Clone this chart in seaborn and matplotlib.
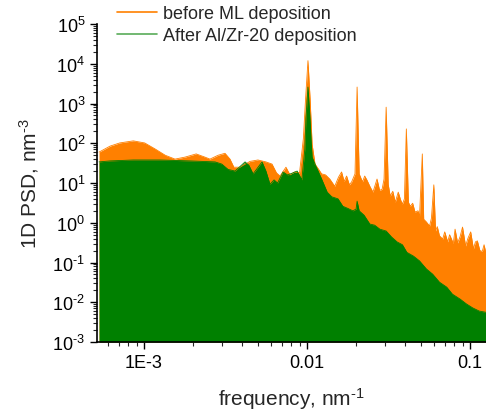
import numpy as np
import pandas as pd
import matplotlib
matplotlib.use("Agg")
import matplotlib.pyplot as plt
import matplotlib.ticker as mticker
from matplotlib.lines import Line2D
import seaborn as sns

# PSD before multilayer deposition (frequency in nm^-1, PSD in nm^-3)
freq_before = [5.3e-4, 6.2e-4, 7.1e-4, 8.6e-4, 1.01e-3, 1.17e-3, 1.35e-3, 1.55e-3,
               1.79e-3, 2.09e-3, 2.36e-3, 2.54e-3, 2.85e-3, 3.14e-3, 3.37e-3, 3.56e-3,
               3.88e-3, 4.47e-3, 5.0e-3, 5.6e-3, 6.1e-3, 6.5e-3, 6.83e-3, 7.43e-3,
               7.87e-3, 8.4e-3, 9.0e-3, 9.5e-3, 9.8e-3, 1.014e-2, 1.045e-2, 1.075e-2,
               1.12e-2, 1.18e-2, 1.23e-2, 1.30e-2, 1.38e-2, 1.48e-2, 1.56e-2, 1.63e-2,
               1.69e-2, 1.75e-2, 1.82e-2, 1.88e-2, 1.97e-2, 2.03e-2, 2.09e-2, 2.19e-2,
               2.26e-2, 2.33e-2, 2.44e-2, 2.54e-2, 2.69e-2, 2.79e-2, 2.89e-2, 2.97e-2,
               3.06e-2, 3.15e-2, 3.24e-2, 3.36e-2, 3.48e-2, 3.63e-2, 3.75e-2, 3.85e-2,
               3.96e-2, 4.07e-2, 4.19e-2, 4.3e-2, 4.45e-2, 4.6e-2, 4.8e-2, 4.9e-2,
               5.1e-2, 5.2e-2, 5.4e-2, 5.65e-2, 5.8e-2, 6.0e-2, 6.15e-2, 6.3e-2,
               6.5e-2, 6.8e-2, 7.0e-2, 7.3e-2, 7.5e-2, 7.7e-2, 7.9e-2, 8.1e-2,
               8.4e-2, 8.7e-2, 9.0e-2, 9.4e-2, 9.7e-2, 1.01e-1, 1.05e-1, 1.08e-1,
               1.11e-1, 1.15e-1, 1.19e-1, 1.22e-1, 1.25e-1]
psd_before = [60, 85, 102, 115, 102, 72, 50, 40,
              45, 54, 45, 40, 50, 56, 40, 25,
              25, 35, 38, 34, 30, 18, 15, 25,
              16, 19, 18, 130, 1300, 12000, 1300, 95,
              30, 22, 17, 16, 12.6, 8.3, 14, 19,
              11, 15, 9, 10.7, 17, 2600, 17, 10.7,
              15, 12, 8, 5.9, 12.6, 6.5, 7, 12.6,
              810, 9.3, 4.7, 6.2, 3.3, 5.9, 3.8, 2.95,
              4.0, 230, 3.3, 2.6, 3.1, 1.86, 2.0, 1.4,
              54, 1.23, 1.05, 0.83, 1.3, 9, 0.62, 0.8,
              0.47, 0.39, 0.59, 0.33, 0.5, 0.39, 0.3, 0.69,
              0.31, 0.45, 0.78, 0.26, 0.4, 0.59, 0.22, 0.33,
              0.35, 0.2, 0.19, 0.28, 0.18]

# PSD after Al/Zr-20 deposition
freq_after = [5.3e-4, 6.2e-4, 8.6e-4, 1.25e-3, 1.91e-3, 2.73e-3, 3.0e-3, 3.28e-3,
              3.62e-3, 4.17e-3, 4.4e-3, 4.67e-3, 5.3e-3, 5.6e-3, 5.93e-3, 6.28e-3,
              6.6e-3, 7.13e-3, 7.6e-3, 8.2e-3, 8.7e-3, 9.3e-3, 9.7e-3, 9.85e-3,
              1.014e-2, 1.045e-2, 1.075e-2, 1.12e-2, 1.17e-2, 1.23e-2, 1.33e-2, 1.42e-2,
              1.55e-2, 1.66e-2, 1.78e-2, 1.91e-2, 2.0e-2, 2.03e-2, 2.09e-2, 2.24e-2,
              2.43e-2, 2.6e-2, 2.8e-2, 3.06e-2, 3.3e-2, 3.57e-2, 3.85e-2, 4.1e-2,
              4.5e-2, 4.9e-2, 5.4e-2, 5.9e-2, 6.5e-2, 7.2e-2, 7.8e-2, 8.7e-2,
              9.5e-2, 1.04e-1, 1.14e-1, 1.25e-1]
psd_after = [34, 36, 38, 38, 36, 34, 30, 22,
             20, 34, 28, 17, 34, 20, 9.3, 12,
             10, 19, 16, 18, 20, 12, 72, 410,
             2600, 410, 45, 30, 20, 12.6, 5.9, 4.5,
             4.0, 2.6, 2.3, 2.0, 2.2, 3.5, 2.0, 1.55,
             0.93, 0.87, 0.69, 0.62, 0.44, 0.33, 0.28, 0.18,
             0.145, 0.11, 0.069, 0.051, 0.032, 0.024, 0.016, 0.012,
             0.0091, 0.0072, 0.006, 0.0056]

labels = ["before ML deposition", "After Al/Zr-20 deposition"]
colors = ["#ff8000", "#008000"]

df_before = pd.DataFrame({"freq": freq_before, "psd": psd_before})
df_after = pd.DataFrame({"freq": freq_after, "psd": psd_after})

sns.set_style("ticks")
plt.rcParams["font.family"] = ["Liberation Sans", "DejaVu Sans"]
plt.rcParams["mathtext.fontset"] = "custom"
plt.rcParams["mathtext.rm"] = "Liberation Sans"
plt.rcParams["mathtext.it"] = "Liberation Sans"
plt.rcParams["mathtext.default"] = "regular"
plt.rcParams["axes.unicode_minus"] = False

fig = plt.figure(figsize=(4.86, 4.14), dpi=100)
ax = fig.add_axes([0.1996, 0.1715, 0.8004, 0.768])

ymin = 1e-3
for d, c in zip([df_before, df_after], colors):
    ax.fill_between(d["freq"], ymin, d["psd"], color=c, lw=0)
    sns.lineplot(data=d, x="freq", y="psd", color=c, lw=0.6, ax=ax)

ax.set_xscale("log")
ax.set_yscale("log")
ax.set_xlim(5.15e-4, 0.1254)
ax.set_ylim(1e-3, 1e5)

ax.xaxis.set_major_locator(mticker.FixedLocator([1e-3, 1e-2, 1e-1]))
ax.xaxis.set_major_formatter(mticker.FixedFormatter(["1E-3", "0.01", "0.1"]))
ax.xaxis.set_minor_locator(mticker.LogLocator(base=10, subs=np.arange(2, 10)))
ax.xaxis.set_minor_formatter(mticker.NullFormatter())

ax.yaxis.set_major_locator(mticker.LogLocator(base=10, numticks=20))
ax.yaxis.set_major_formatter(mticker.FuncFormatter(lambda v, p: "10$^{\\text{%d}}$" % round(np.log10(v))))
ax.yaxis.set_minor_locator(mticker.LogLocator(base=10, subs=np.arange(2, 10), numticks=20))
ax.yaxis.set_minor_formatter(mticker.NullFormatter())

ax.tick_params(which="major", direction="out", length=5, width=1, labelsize=13, colors="black")
ax.tick_params(which="minor", direction="out", length=3, width=0.8)
for s in ["top", "right"]:
    ax.spines[s].set_visible(False)
for s in ["left", "bottom"]:
    ax.spines[s].set_color("black")
    ax.spines[s].set_linewidth(1.2)

ax.set_xlabel("frequency, nm$^{\\text{-1}}$", fontsize=15, labelpad=10)
ax.set_ylabel("1D PSD, nm$^{\\text{-3}}$", fontsize=15, labelpad=8)

handles = [Line2D([0], [0], color=colors[0], lw=1.2),
           Line2D([0], [0], color=colors[1], lw=1.2, alpha=0.65)]
ax.legend(handles, labels, loc="upper left", bbox_to_anchor=(0.051, 1.06),
          frameon=False, fontsize=13, handlelength=2.2, handletextpad=0.35,
          labelspacing=0.3, borderpad=0, borderaxespad=0)

fig.savefig("out.png", dpi=100)
